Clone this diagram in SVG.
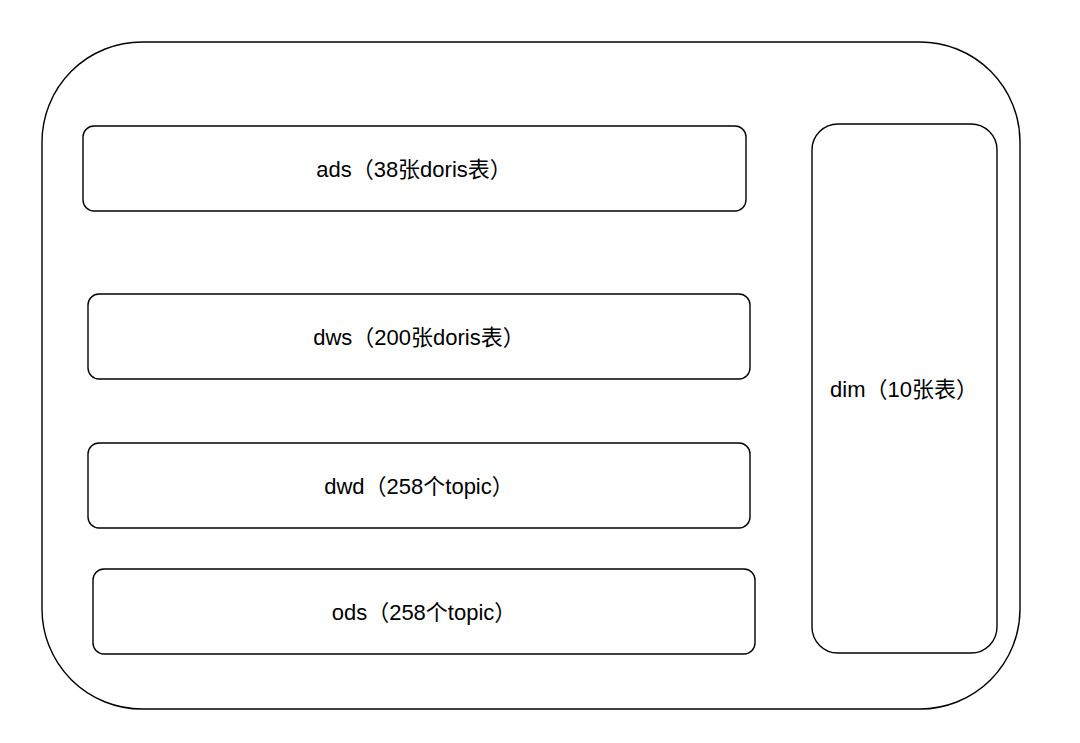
<svg xmlns="http://www.w3.org/2000/svg" width="1080" height="743" viewBox="0 0 1080 743">
<style>
.box{fill:#fff;stroke:#000;stroke-width:1.4}
.outer{fill:#fff;stroke:#000;stroke-width:1.4}
.lbl{font-family:"Liberation Sans","Noto Sans CJK SC",sans-serif;font-size:22px;fill:#000;text-anchor:middle;dominant-baseline:central}
</style>
<rect width="1080" height="743" fill="#fff"/>
<g id="container"><rect class="outer" x="42" y="42" width="978" height="667" rx="100" ry="100"/></g>
<g id="ads"><rect class="box" x="83" y="126" width="663" height="85" rx="11"/><text class="lbl" x="414" y="169">ads（38张doris表）</text></g>
<g id="dws"><rect class="box" x="88" y="294" width="662" height="85" rx="11"/><text class="lbl" x="419" y="337">dws（200张doris表）</text></g>
<g id="dwd"><rect class="box" x="88" y="443" width="662" height="85" rx="11"/><text class="lbl" x="419" y="486">dwd（258个topic）</text></g>
<g id="ods"><rect class="box" x="93" y="569" width="662" height="85" rx="11"/><text class="lbl" x="424" y="612">ods（258个topic）</text></g>
<g id="dim"><rect class="box" x="812" y="124" width="185" height="529" rx="26"/><text class="lbl" x="904" y="389">dim（10张表）</text></g>
<g id="connectors"></g>
</svg>
